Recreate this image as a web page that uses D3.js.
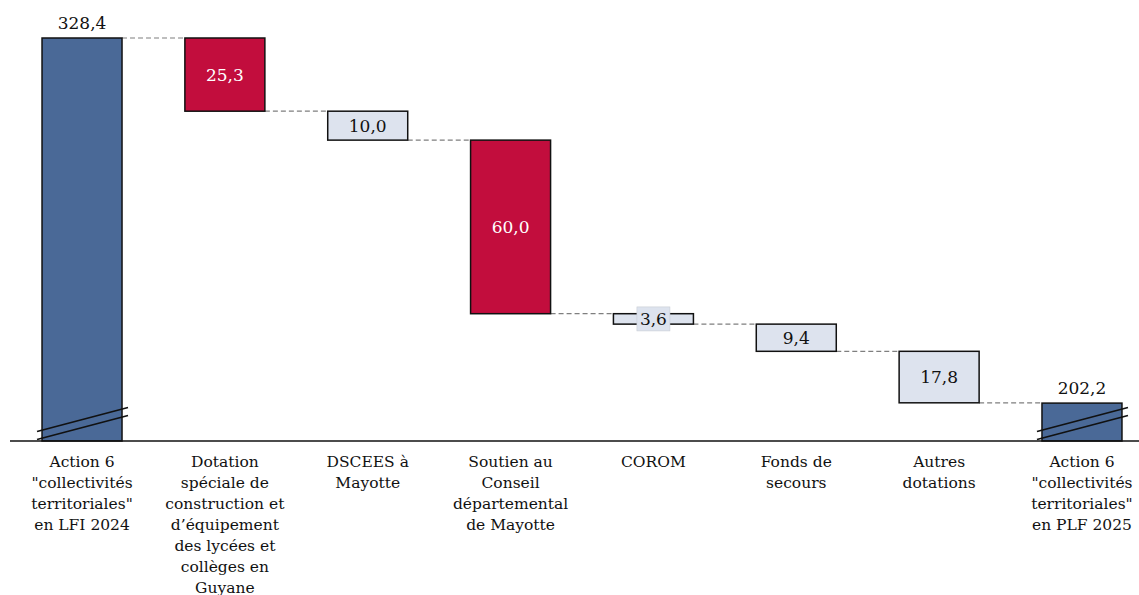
<!DOCTYPE html>
<html>
<head>
<meta charset="utf-8">
<script src="https://cdn.jsdelivr.net/npm/d3@7"></script>
<style>
html,body{margin:0;padding:0;background:#fff;}
svg{display:block;}
</style>
</head>
<body>
<svg id="chart" width="1139" height="595"></svg>
<script>
// ---- data ----
const categories = [
  ["Action 6", "\"collectivités", "territoriales\"", "en LFI 2024"],
  ["Dotation", "spéciale de", "construction et", "d’équipement", "des lycées et", "collèges en", "Guyane"],
  ["DSCEES à", "Mayotte"],
  ["Soutien au", "Conseil", "départemental", "de Mayotte"],
  ["COROM"],
  ["Fonds de", "secours"],
  ["Autres", "dotations"],
  ["Action 6", "\"collectivités", "territoriales\"", "en PLF 2025"]
];
const values = [328.4, -25.3, -10.0, -60.0, -3.6, -9.4, -17.8, 202.2];
const kinds = ["total", "major", "minor", "major", "minor", "minor", "minor", "total"];
const valueLabels = ["328,4", "25,3", "10,0", "60,0", "3,6", "9,4", "17,8", "202,2"];
const axisBreakValue = 189.1; // axis is broken: baseline stands for this value

// ---- layout ----
const W = 1139, H = 595;
const baseY = 441;
const svg = d3.select("#chart");
const font = "'DejaVu Serif', 'Liberation Serif', serif";
const fs = 15.5, fsv = 17;

const x = d3.scaleBand().domain(d3.range(categories.length))
  .range([10.6, 1153.4]).paddingInner(0.44).paddingOuter(0.22);
const y = d3.scaleLinear().domain([axisBreakValue, 328.4]).range([baseY, 38]);

// compute waterfall segments
let running = 0;
const segs = values.map((v, i) => {
  let top, bottom;
  if (kinds[i] === "total") { top = v; bottom = axisBreakValue; running = v; }
  else { const start = running; running = running + v; top = start; bottom = running; }
  return { i, v, top, bottom, kind: kinds[i] };
});

const fills = { total: "#4a6997", major: "#c20d3d", minor: "#dde3ee" };

// dashed connectors
for (let i = 0; i < segs.length - 1; i++) {
  const lvl = segs[i].kind === "total" ? segs[i].top : segs[i].bottom;
  svg.append("line")
    .attr("x1", x(i) + x.bandwidth()).attr("x2", x(i + 1))
    .attr("y1", y(lvl)).attr("y2", y(lvl))
    .attr("stroke", "#7f7f7f").attr("stroke-width", 1.2)
    .attr("stroke-dasharray", "5,3");
}

// bars
svg.selectAll("rect.bar").data(segs).enter().append("rect")
  .attr("class", "bar")
  .attr("x", d => x(d.i))
  .attr("y", d => y(d.top))
  .attr("width", x.bandwidth())
  .attr("height", d => y(d.bottom) - y(d.top))
  .attr("fill", d => fills[d.kind])
  .attr("stroke", "#111").attr("stroke-width", 1.5);

// axis break marks on total bars
segs.filter(d => d.kind === "total").forEach(d => {
  const x0 = x(d.i) - 5, x1 = x(d.i) + x.bandwidth() + 6;
  [[431.5, 407.5], [439.5, 415.5]].forEach(([ya, yb]) => {
    svg.append("line").attr("x1", x0).attr("x2", x1)
      .attr("y1", ya).attr("y2", yb)
      .attr("stroke", "#111").attr("stroke-width", 1.6);
  });
});

// baseline axis
svg.append("line").attr("x1", 10).attr("x2", W).attr("y1", baseY).attr("y2", baseY)
  .attr("stroke", "#111").attr("stroke-width", 1.6);

// value labels
segs.forEach(d => {
  const cx = x(d.i) + x.bandwidth() / 2;
  if (d.kind === "total") {
    svg.append("text").attr("x", cx).attr("y", y(d.top) - 9)
      .attr("text-anchor", "middle").attr("font-family", font).attr("font-size", fsv)
      .attr("fill", "#111").text(valueLabels[d.i]);
  } else {
    const cy = (y(d.top) + y(d.bottom)) / 2;
    if (d.i === 4) {
      svg.append("rect").attr("x", cx - 16.5).attr("y", cy - 12).attr("width", 33).attr("height", 24)
        .attr("fill", "#dde3ee").attr("stroke", "#c8ccd4").attr("stroke-width", 0.6);
    }
    svg.append("text").attr("x", cx).attr("y", cy).attr("dy", "0.36em")
      .attr("text-anchor", "middle").attr("font-family", font).attr("font-size", fsv)
      .attr("fill", d.kind === "major" ? "#fff" : "#111").text(valueLabels[d.i]);
  }
});

// category labels
categories.forEach((lines, i) => {
  const t = svg.append("text").attr("x", x(i) + x.bandwidth() / 2).attr("y", 467)
    .attr("text-anchor", "middle").attr("font-family", font).attr("font-size", fs)
    .attr("fill", "#111");
  lines.forEach((ln, k) => {
    t.append("tspan").attr("x", x(i) + x.bandwidth() / 2).attr("y", 467 + k * 21).text(ln);
  });
});
</script>
</body>
</html>
